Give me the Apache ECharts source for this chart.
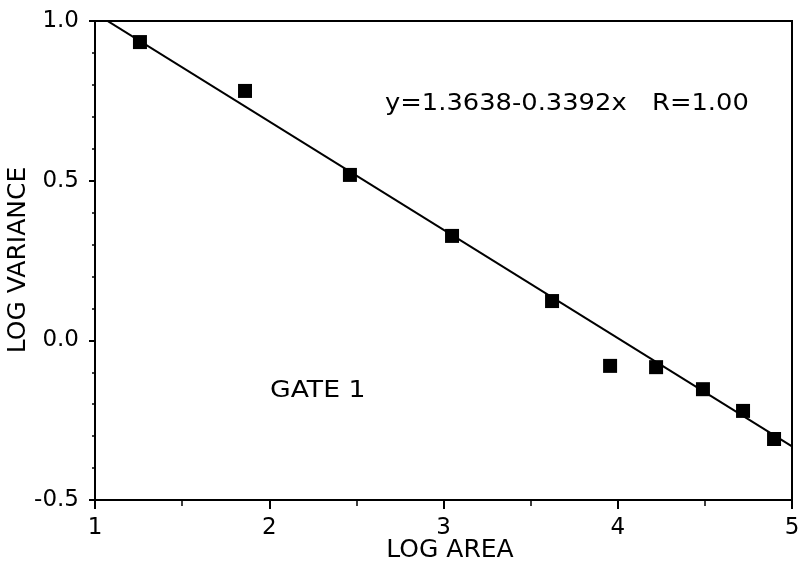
<!DOCTYPE html>
<html>
<head>
<meta charset="utf-8">
<script src="https://cdn.jsdelivr.net/npm/echarts@6/dist/echarts.min.js"></script>
<style>
  html, body { margin: 0; padding: 0; background: #fff; }
  #chart { width: 800px; height: 574px; }
</style>
</head>
<body>
<div id="chart"></div>
<script>
// Log area vs. log variance, gate 1
const logArea = [1.258, 1.861, 2.463, 3.049, 3.623, 3.956, 4.220, 4.489, 4.719, 4.897];
const logVariance = [0.934, 0.781, 0.518, 0.327, 0.123, -0.080, -0.084, -0.153, -0.221, -0.309];

// Least-squares fit reported on the plot
const fitIntercept = 1.3638;
const fitSlope = -0.3392;
const fitR = '1.00';
const fitRange = [1, 5];

const xTicks = [1, 2, 3, 4, 5];
const yTicks = [-0.5, 0.0, 0.5, 1.0];
const xTitle = 'LOG AREA';
const yTitle = 'LOG VARIANCE';

const points = logArea.map((x, i) => [x, logVariance[i]]);
const fitLine = fitRange.map(x => [x, fitIntercept + fitSlope * x]);

const font = '"DejaVu Sans", sans-serif';
const chart = echarts.init(document.getElementById('chart'));

chart.setOption({
  backgroundColor: '#fff',
  animation: false,
  grid: {
    left: 95, right: 8, top: 21, bottom: 74,
    outerBoundsMode: 'none',
    containLabel: false,
    show: true, borderColor: '#000', borderWidth: 2
  },
  xAxis: {
    type: 'value',
    min: xTicks[0], max: xTicks[xTicks.length - 1], interval: 1,
    axisLine: { show: true, onZero: false, lineStyle: { color: '#000', width: 2 } },
    axisTick: { show: true, inside: false, length: 9, lineStyle: { color: '#000', width: 2 } },
    minorTick: { show: true, splitNumber: 2, length: 6, lineStyle: { color: '#000', width: 1.5 } },
    axisLabel: {
      color: '#000', fontSize: 23, fontFamily: font, margin: 17,
      formatter: v => xTicks.includes(v) ? String(v) : ''
    },
    splitLine: { show: false }
  },
  yAxis: {
    type: 'value',
    min: yTicks[0], max: yTicks[yTicks.length - 1], interval: 0.5,
    axisLine: { show: true, onZero: false, lineStyle: { color: '#000', width: 2 } },
    axisTick: { show: true, inside: false, length: 6, lineStyle: { color: '#000', width: 2 } },
    minorTick: { show: true, splitNumber: 5, length: 3, lineStyle: { color: '#000', width: 1.5 } },
    axisLabel: {
      color: '#000', fontSize: 23, fontFamily: font, margin: 16,
      formatter: v => v.toFixed(1)
    },
    splitLine: { show: false }
  },
  series: [
    {
      type: 'line',
      data: fitLine,
      symbol: 'none',
      clip: true,
      lineStyle: { color: '#000', width: 2 },
      z: 2
    },
    {
      type: 'scatter',
      data: points,
      symbol: 'rect',
      symbolSize: 14,
      itemStyle: { color: '#000', opacity: 1 },
      z: 3
    }
  ],
  graphic: [
    {
      type: 'text', x: 450, y: 550,
      style: {
        text: xTitle, fill: '#000', fontSize: 25, fontFamily: font,
        align: 'center', verticalAlign: 'middle'
      }
    },
    {
      type: 'text', x: 18, y: 260, rotation: Math.PI / 2,
      style: {
        text: yTitle, fill: '#000', fontSize: 25, fontFamily: font,
        align: 'center', verticalAlign: 'middle'
      }
    },
    {
      type: 'text', x: 385, y: 93, scaleX: 1.12,
      style: {
        text: 'y=' + fitIntercept.toFixed(4) + '-' + Math.abs(fitSlope).toFixed(4) + 'x',
        fill: '#000', fontSize: 23, fontFamily: font
      }
    },
    {
      type: 'text', x: 652, y: 93, scaleX: 1.12,
      style: { text: 'R=' + fitR, fill: '#000', fontSize: 23, fontFamily: font }
    },
    {
      type: 'text', x: 270, y: 380, scaleX: 1.16,
      style: { text: 'GATE 1', fill: '#000', fontSize: 23, fontFamily: font }
    }
  ]
});
</script>
</body>
</html>
